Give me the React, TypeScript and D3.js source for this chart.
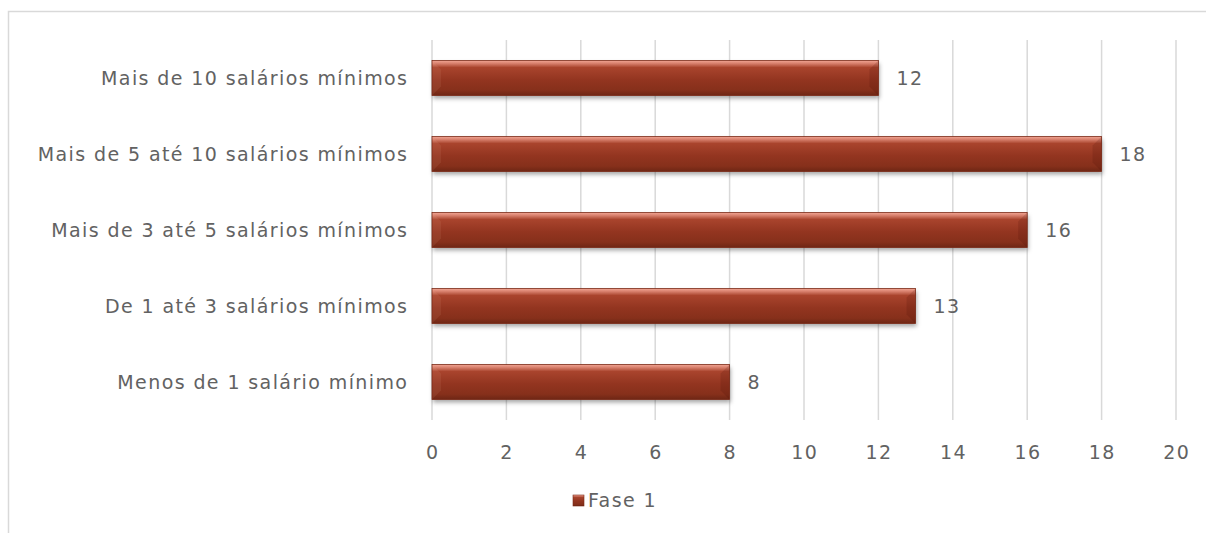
import React from "react";
import * as d3 from "d3";

const categories = [
  "Mais de 10 salários mínimos",
  "Mais de 5 até 10 salários mínimos",
  "Mais de 3 até 5 salários mínimos",
  "De 1 até 3 salários mínimos",
  "Menos de 1 salário mínimo",
];
const values = [12, 18, 16, 13, 8];
const ticks = [0, 2, 4, 6, 8, 10, 12, 14, 16, 18, 20];
const seriesName = "Fase 1";

const W = 1206;
const H = 533;
const font = "'DejaVu Sans', 'Open Sans', sans-serif";
const textColor = "#626262";
const ls = 1.4;
const fs = 19;

export default function App() {
  const x = d3.scaleLinear().domain([0, 20]).range([432, 1176]);
  const y = d3.scaleBand().domain(categories).range([40, 420]).paddingInner(0.54).paddingOuter(0.27);
  const bh = y.bandwidth();
  const bev = 9;
  return (
    <svg width={W} height={H} style={{ position: "absolute", left: 0, top: 0 }}>
      <defs>
        <linearGradient id="barGrad" x1="0" y1="0" x2="0" y2="1">
          <stop offset="0" stopColor="#f2a594" />
          <stop offset="0.08" stopColor="#d9826f" />
          <stop offset="0.2" stopColor="#a9442d" />
          <stop offset="0.55" stopColor="#933520" />
          <stop offset="0.85" stopColor="#86301b" />
          <stop offset="1" stopColor="#6e2614" />
        </linearGradient>
        <filter id="shadow" x="-5%" y="-30%" width="110%" height="180%">
          <feGaussianBlur stdDeviation="2" />
        </filter>
      </defs>
      <rect x={8.5} y={11.5} width={W} height={H} fill="white" stroke="#d9d9d9" strokeWidth={1.5} />
      {ticks.map((t) => (
        <line key={t} x1={x(t)} x2={x(t)} y1={40} y2={420} stroke="#d9d9d9" strokeWidth={1.5} />
      ))}
      {ticks.map((t) => (
        <text key={"t" + t} x={x(t) + ls / 2} y={459} textAnchor="middle" fontFamily={font} fontSize={fs} letterSpacing={ls} fill={textColor}>
          {t}
        </text>
      ))}
      {categories.map((c, i) => {
        const y0 = y(c)!;
        const x0 = x(0);
        const x1 = x(values[i]);
        const y1 = y0 + bh;
        return (
          <g key={c}>
            <rect x={x0 + 1} y={y0 + 3} width={x1 - x0} height={bh} fill="rgba(0,0,0,0.35)" filter="url(#shadow)" />
            <rect x={x0} y={y0} width={x1 - x0} height={bh} fill="url(#barGrad)" />
            <polygon
              points={`${x0},${y0} ${x0 + bev},${y0 + bev} ${x0 + bev},${y1 - bev} ${x0},${y1}`}
              fill="rgba(255,200,180,0.08)"
            />
            <polygon
              points={`${x1},${y0} ${x1 - bev},${y0 + bev} ${x1 - bev},${y1 - bev} ${x1},${y1}`}
              fill="rgba(60,10,0,0.15)"
            />
            <rect x={x0} y={y0} width={x1 - x0} height={bh} fill="none" stroke="#7a2a17" strokeWidth={0.8} />
            <text x={407 + ls} y={y0 + bh / 2 + 7} textAnchor="end" fontFamily={font} fontSize={fs} letterSpacing={ls} fill={textColor}>
              {c}
            </text>
            <text x={x1 + 18} y={y0 + bh / 2 + 7} fontFamily={font} fontSize={fs} letterSpacing={ls} fill={textColor}>
              {values[i]}
            </text>
          </g>
        );
      })}
      <rect x={573} y={495} width={11} height={11} fill="url(#barGrad)" stroke="#7a2a17" strokeWidth={0.6} />
      <text x={588} y={507} fontFamily={font} fontSize={fs} letterSpacing={ls} fill={textColor}>
        {seriesName}
      </text>
    </svg>
  );
}
